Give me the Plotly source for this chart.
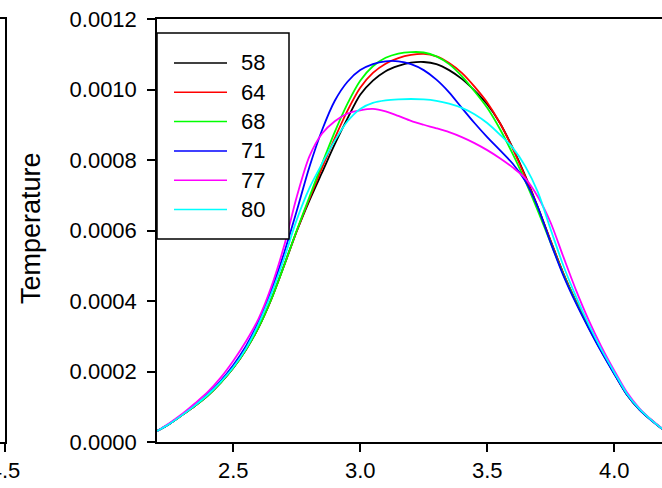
import numpy as np
import plotly.graph_objects as go

# ---- data (y in units of 1e-3) ----
x_vals = [2.20, 2.25, 2.30, 2.35, 2.40, 2.45, 2.50, 2.55, 2.60, 2.65, 2.70, 2.75, 2.80, 2.85,
          2.90, 2.95, 3.00, 3.05, 3.10, 3.15, 3.20, 3.25, 3.30, 3.35, 3.40, 3.45, 3.50, 3.55,
          3.60, 3.65, 3.70, 3.75, 3.80, 3.85, 3.90, 3.95, 4.00, 4.05, 4.10, 4.15, 4.20, 4.25,
          4.30, 4.35, 4.40]

series_names = ["58", "64", "68", "71", "77", "80"]
series_colors = ["#000000", "#ff0000", "#00ff00", "#0000ff", "#ff00ff", "#00ffff"]

y58 = [0.031, 0.052, 0.077, 0.103, 0.132, 0.168, 0.210, 0.262, 0.325, 0.405, 0.500, 0.598, 0.685, 0.765,
       0.845, 0.918, 0.985, 1.025, 1.052, 1.067, 1.076, 1.078, 1.072, 1.055, 1.030, 0.997, 0.958, 0.905,
       0.835, 0.755, 0.665, 0.570, 0.478, 0.398, 0.325, 0.258, 0.195, 0.135, 0.092, 0.060, 0.032, 0.017,
       0.008, 0.004, 0.002]
y64 = [0.031, 0.052, 0.077, 0.103, 0.132, 0.168, 0.210, 0.262, 0.325, 0.405, 0.500, 0.598, 0.690, 0.778,
       0.862, 0.940, 1.005, 1.047, 1.073, 1.089, 1.098, 1.101, 1.094, 1.075, 1.047, 1.008, 0.963, 0.905,
       0.833, 0.752, 0.663, 0.570, 0.478, 0.398, 0.325, 0.258, 0.195, 0.135, 0.092, 0.060, 0.032, 0.017,
       0.008, 0.004, 0.002]
y68 = [0.031, 0.052, 0.077, 0.103, 0.132, 0.168, 0.210, 0.262, 0.325, 0.405, 0.500, 0.600, 0.695, 0.790,
       0.880, 0.960, 1.025, 1.066, 1.090, 1.102, 1.106, 1.105, 1.094, 1.072, 1.038, 0.995, 0.948, 0.888,
       0.818, 0.740, 0.655, 0.565, 0.475, 0.396, 0.323, 0.257, 0.195, 0.135, 0.092, 0.060, 0.032, 0.017,
       0.008, 0.004, 0.002]
y71 = [0.031, 0.052, 0.078, 0.105, 0.136, 0.173, 0.218, 0.272, 0.342, 0.430, 0.535, 0.655, 0.780, 0.885,
       0.968, 1.022, 1.055, 1.072, 1.080, 1.080, 1.072, 1.055, 1.028, 0.992, 0.948, 0.905, 0.865, 0.828,
       0.790, 0.740, 0.665, 0.565, 0.472, 0.393, 0.322, 0.255, 0.193, 0.134, 0.091, 0.059, 0.032, 0.017,
       0.008, 0.004, 0.002]
y77 = [0.031, 0.054, 0.080, 0.110, 0.142, 0.182, 0.230, 0.285, 0.350, 0.440, 0.555, 0.695, 0.810, 0.875,
       0.910, 0.932, 0.941, 0.945, 0.938, 0.925, 0.911, 0.900, 0.890, 0.879, 0.865, 0.848, 0.828, 0.805,
       0.779, 0.748, 0.695, 0.622, 0.525, 0.430, 0.345, 0.270, 0.203, 0.141, 0.095, 0.061, 0.033, 0.017,
       0.008, 0.004, 0.002]
y80 = [0.031, 0.052, 0.077, 0.104, 0.134, 0.170, 0.212, 0.265, 0.335, 0.420, 0.520, 0.630, 0.720, 0.790,
       0.855, 0.910, 0.945, 0.962, 0.969, 0.972, 0.973, 0.972, 0.968, 0.960, 0.948, 0.930, 0.905, 0.872,
       0.835, 0.782, 0.708, 0.603, 0.500, 0.412, 0.333, 0.262, 0.198, 0.137, 0.093, 0.060, 0.032, 0.017,
       0.008, 0.004, 0.002]

all_series = [y58, y64, y68, y71, y77, y80]

y_tick_vals = [0.0, 0.0002, 0.0004, 0.0006, 0.0008, 0.0010, 0.0012]
x_tick_vals = [2.5, 3.0, 3.5, 4.0]
left_panel_tick = [4.5]
y_title = "Temperature"

FONT = "Liberation Sans, Arial, sans-serif"
W, H = 662, 488

fig = go.Figure()
for name, color, ys in zip(series_names, series_colors, all_series):
    fig.add_trace(go.Scatter(
        x=x_vals, y=np.array(ys) * 1e-3, name=name, mode="lines",
        line=dict(color=color, width=1.8, shape="spline", smoothing=0.8),
        xaxis="x", yaxis="y", showlegend=False))

# partial neighbouring panel visible at the left edge
fig.add_trace(go.Scatter(x=[4.45], y=[0.0], mode="lines", showlegend=False,
                         hoverinfo="skip", xaxis="x2", yaxis="y2"))

x0_px, y_top_px, y_bot_px = 157, 19, 442
ydom = [(H - y_bot_px) / H, (H - y_top_px) / H]

axis_common = dict(showgrid=False, zeroline=False, showline=True, linecolor="black",
                   linewidth=1.5, ticks="outside", ticklen=8, tickwidth=1.5, tickcolor="black",
                   tickfont=dict(family=FONT, size=22, color="black"))


def px(x):
    return x / W


def py(y):
    return (H - y) / H


# ---- legend box (drawn as layout shapes + annotations) ----
shapes = [dict(type="rect", xref="paper", yref="paper", x0=px(157), x1=px(289),
               y0=py(239), y1=py(33), line=dict(color="black", width=1.5),
               fillcolor="white", layer="above")]
annotations = []
row0, row_step = 63, 29.3
for i, (name, color) in enumerate(zip(series_names, series_colors)):
    yy = row0 + i * row_step
    shapes.append(dict(type="line", xref="paper", yref="paper", x0=px(174), x1=px(227),
                       y0=py(yy), y1=py(yy), line=dict(color=color, width=1.5), layer="above"))
    annotations.append(dict(text=name, xref="paper", yref="paper", x=px(239), y=py(yy),
                            xanchor="left", yanchor="middle", showarrow=False,
                            font=dict(family=FONT, size=22, color="black")))

annotations.append(dict(text=y_title, textangle=-90, xref="paper", yref="paper",
                        x=px(31), y=py(228), showarrow=False, xanchor="center", yanchor="middle",
                        font=dict(family=FONT, size=27, color="black")))

fig.update_layout(
    width=W, height=H,
    margin=dict(l=0, r=0, t=0, b=0),
    paper_bgcolor="white", plot_bgcolor="white",
    font=dict(family=FONT, size=22, color="black"),
    xaxis=dict(domain=[x0_px / W, 1.0], range=[2.2, 2.2 + (W - x0_px) / 254.0],
               tickvals=x_tick_vals, tickformat=".1f", mirror=True, anchor="y",
               automargin=False, **axis_common),
    yaxis=dict(domain=ydom, range=[0, 0.0012], tickvals=y_tick_vals, tickformat=".4f",
               mirror=False, anchor="x", automargin=False, ticklabelstandoff=6,
               **axis_common),
    xaxis2=dict(domain=[0, 5 / W], range=[4.45, 4.5], tickvals=left_panel_tick, tickformat=".1f",
                mirror=True, anchor="y2", automargin=False, ticklabeloverflow="allow",
                **axis_common),
    yaxis2=dict(domain=ydom, range=[0, 0.0012], side="right", anchor="x2",
                showgrid=False, zeroline=False, showline=True, linecolor="black",
                linewidth=1.5, ticks="", showticklabels=False, automargin=False),
    shapes=shapes,
    annotations=annotations,
    showlegend=False,
)

fig.write_html("out.html")
